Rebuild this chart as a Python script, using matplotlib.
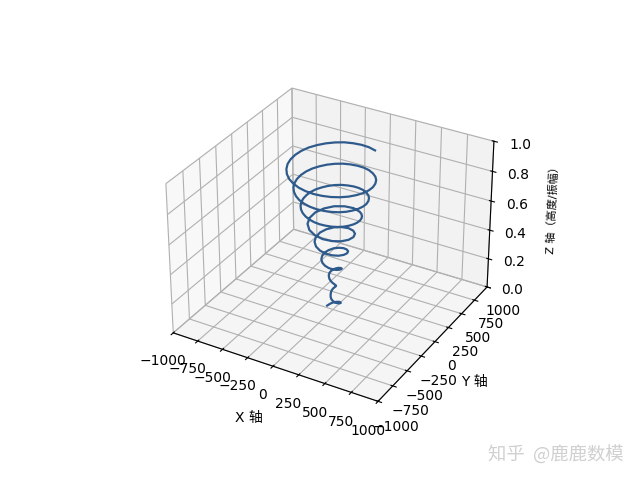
import matplotlib.pyplot as plt

plt.rcParams['font.family'] = ['DejaVu Sans', 'Noto Sans CJK SC']

# spiral, top end first
x_vals = [200, 124, 45, -36, -114, -187, -252, -308, -351, -380, -394, -393, -377, -346, -303, -249, -186, -115, -42, 33, 106, 174, 234, 285, 325, 352, 365, 364, 349, 321, 281,
          230, 172, 107, 39, -31, -97, -160, -216, -263, -299, -324, -336, -335, -321, -295, -258, -211, -158, -98, -36, 28, 89, 147, 198, 241, 274, 296, 307, 306, 293, 269, 236,
          193, 144, 89, 33, -25, -81, -134, -180, -219, -249, -269, -278, -277, -265, -243, -213, -174, -129, -80, -29, 23, 73, 120, 161, 196, 223, 241, 249, 248, 238, 218, 190,
          155, 72, -20, -107, -174, -213, -219, -192, -137, -63, 18, 93, 152, 186, 190, 166,
          118, 54, -15, -80, -130, -158, -161, -140, -99, -45, 13, 66, 107, 130, 132, 115,
          81, 37, -10, -53, -85, -103, -103, -89, -62, -28, 8, 40, 63, 75, 74, 67,
          45, 20, -5, -25, -38, -43, -40, -31, -21, -9, 3, 13, 21, 26, 27, 24,
          17, 8, -2, -11, -17, -20, -20, -18, -14, -8, 3, 18, 37, 53, 62, 60,
          45, 22, -6, -34, -57, -72]
y_vals = [362, 393, 408, 407, 391, 359, 315, 258, 193, 120, 44, -34, -109, -180, -243, -296, -337, -366, -379, -378, -363, -334, -292, -239, -178, -111, -40, 32, 101, 167, 225,
          274, 312, 338, 350, 349, 335, 308, 270, 221, 165, 102, 37, -29, -93, -154, -207, -252, -287, -310, -321, -320, -307, -282, -247, -202, -151, -94, -34, 27, 85, 140, 189,
          230, 262, 283, 293, 291, 279, 256, 224, 183, 137, 85, 31, -24, -77, -127, -170, -207, -236, -255, -264, -262, -251, -231, -202, -165, -123, -76, -28, 22, 69, 113, 152,
          185, 227, 234, 205, 146, 67, -19, -100, -163, -199, -205, -179, -127, -59, 17, 87,
          141, 172, 176, 153, 109, 50, -14, -73, -118, -144, -147, -128, -90, -41, 12, 60,
          96, 116, 118, 102, 71, 32, -9, -46, -74, -89, -89, -76, -53, -24, 7, 35,
          54, 62, 60, 49, 32, 14, -3, -16, -25, -29, -29, -25, -17, -8, 2, 12,
          20, 24, 24, 20, 14, 6, -2, -9, -17, -25, -32, -35, -31, -17, 5, 31,
          54, 69, 73, 66, 48, 23]
z_vals = [.996, .993, .989, .985, .982, .978, .974, .970, .967, .963, .959, .955, .952, .948, .944, .940, .937, .933, .929, .925, .922, .918, .914, .910, .907, .903, .899, .895, .892, .888, .884,
          .880, .877, .873, .869, .865, .862, .858, .854, .850, .847, .843, .839, .835, .832, .828, .824, .820, .817, .813, .809, .805, .802, .798, .794, .790, .787, .783, .779, .775, .772, .768, .764,
          .760, .757, .753, .749, .745, .742, .738, .734, .730, .727, .723, .719, .715, .712, .708, .704, .700, .697, .693, .689, .685, .682, .678, .674, .670, .667, .663, .659, .655, .652, .648, .644,
          .640, .633, .625, .618, .610, .603, .595, .588, .580, .573, .565, .558, .550, .543, .535, .528,
          .520, .513, .505, .498, .490, .483, .475, .468, .460, .453, .445, .438, .430, .423, .415, .408,
          .400, .393, .385, .378, .370, .363, .355, .348, .340, .333, .325, .318, .310, .303, .295, .288,
          .280, .273, .265, .258, .250, .243, .235, .228, .220, .213, .205, .198, .190, .183, .175, .168,
          .160, .153, .145, .138, .130, .123, .115, .108, .100, .093, .085, .078, .070, .063, .055, .048,
          .040, .033, .025, .018, .010, .003]

xy_ticks = [-1000, -750, -500, -250, 0, 250, 500, 750, 1000]
z_ticks = [0.0, 0.2, 0.4, 0.6, 0.8, 1.0]

fig = plt.figure(figsize=(6.4, 4.8), dpi=100)
ax = fig.add_subplot(111, projection='3d')
ax.plot(x_vals, y_vals, z_vals, color='#2f5a8c', linewidth=1.6)

ax.set_xlim(-1000, 1000)
ax.set_ylim(-1000, 1000)
ax.set_zlim(0, 1)
ax.set_xticks(xy_ticks)
ax.set_yticks(xy_ticks)
ax.set_zticks(z_ticks)
ax.view_init(elev=31, azim=-60)
ax.set_box_aspect((4, 4, 2.93), zoom=0.982)
ax.set_xlabel('X 轴', labelpad=6)
ax.set_ylabel('Y 轴', labelpad=6)
ax.set_zlabel('Z 轴（高度/振幅）', fontsize=8, labelpad=7)

fig.text(0.763, 0.040, '知乎  @鹿鹿数模', fontsize=13.2, color='#d0d0d0',
         family=['Noto Sans CJK SC', 'DejaVu Sans'])

plt.savefig('out.png', dpi=100)
